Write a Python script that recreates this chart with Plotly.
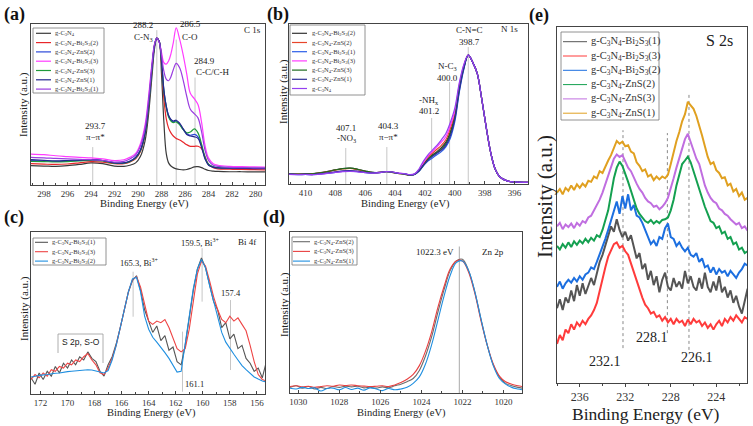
import plotly.graph_objects as go

FONT = "Liberation Serif"
W, H = 753, 426

# ---------------- (a) C 1s ----------------
a_energy = [299.1, 298, 297, 296, 295, 294, 293, 292, 291.2, 290.7, 290.2, 289.8, 289.4, 289.1, 288.8,
            288.6, 288.4, 288.2, 288.0, 287.8, 287.6, 287.4, 287.2, 287.0, 286.75, 286.45, 286.15, 285.85,
            285.55, 285.2, 284.9, 284.6, 284.3, 284.0, 283.6, 283.2, 282.2, 281.2, 280.2, 279.2]
a_gc3n4 = [12.2, 12.0, 11.8, 12.2, 13.0, 14.0, 13.5, 12.0, 11.8, 12.5, 14, 18, 28, 45, 70, 86, 93, 91, 70, 40,
           20, 14, 12, 11, 10.2, 9.8, 9.6, 9.8, 10.5, 11.5, 11.6, 11, 10, 9.2, 8.8, 8.6, 8.4, 8.4, 8.3, 8.3]
a_bi2 = [13.5, 13.2, 13, 13.3, 14, 14.8, 14.5, 13.5, 13.5, 14.5, 16.5, 21, 32, 50, 74, 88, 93, 91, 77, 55,
         42, 36, 33, 31, 29.5, 28.5, 27, 25.5, 24.5, 24.5, 24.5, 23, 18, 13, 11, 10.2, 10, 9.8, 9.7, 9.6]
a_zns2 = [15.5, 15.2, 15, 15.2, 15.5, 16, 15.5, 14, 14, 15, 17.5, 22, 33, 51, 75, 88, 93, 91, 79, 60,
          50, 44, 41, 40, 40.5, 38.5, 35, 32.5, 31.5, 32, 30.5, 25, 17, 13, 11.5, 11, 10.8, 10.7, 10.6, 10.6]
a_bi3 = [19.6, 19.2, 18.5, 18, 17.5, 17.2, 16.5, 15.5, 16, 17.5, 20, 26, 38, 56, 78, 89, 93, 90.5, 84, 77.5,
         76.5, 78.5, 83, 90, 99.5, 92, 82, 70, 58, 54.5, 51, 40, 25, 17, 13.5, 12.5, 11.8, 11.6, 11.5, 11.4]
a_zns3 = [15, 14.8, 14.6, 14.8, 15.2, 15.6, 15.2, 13.8, 13.8, 14.8, 17, 21.5, 32, 50, 74, 88, 93, 91, 78, 59,
          49, 43, 40.5, 39.5, 40, 38, 35, 33, 33.5, 35.5, 33, 26, 17.5, 13, 11.5, 11, 10.8, 10.7, 10.6, 10.6]
a_zns1 = [16, 15.6, 15.3, 15.5, 15.8, 16, 15.5, 14, 14, 15, 17.5, 22, 33, 51, 75, 88, 93, 91, 79, 60,
          50, 44, 41.5, 40.5, 41, 39, 35.5, 32, 31, 30.5, 29.5, 24, 16.5, 12.5, 11.2, 10.8, 10.6, 10.5, 10.4, 10.4]
a_bi1 = [17.5, 17.2, 16.8, 16.5, 16.3, 16, 15.5, 14.5, 15, 16.5, 19, 24.5, 36, 54, 77, 89, 93, 90.5, 82, 72,
         67, 66, 68.5, 73, 77, 74, 66, 56, 48, 45, 42.5, 34, 22, 15.5, 12.5, 11.8, 11.2, 11, 10.9, 10.8]
a_names = ["g-C<sub>3</sub>N<sub>4</sub>", "g-C<sub>3</sub>N<sub>4</sub>-Bi<sub>2</sub>S<sub>3</sub>(2)",
           "g-C<sub>3</sub>N<sub>4</sub>-ZnS(2)", "g-C<sub>3</sub>N<sub>4</sub>-Bi<sub>2</sub>S<sub>3</sub>(3)",
           "g-C<sub>3</sub>N<sub>4</sub>-ZnS(3)", "g-C<sub>3</sub>N<sub>4</sub>-ZnS(1)",
           "g-C<sub>3</sub>N<sub>4</sub>-Bi<sub>2</sub>S<sub>3</sub>(1)"]
a_series = [a_gc3n4, a_bi2, a_zns2, a_bi3, a_zns3, a_zns1, a_bi1]
a_colors = ["#3a3a3a", "#e8262a", "#2b48d8", "#ff3cff", "#1f9a3a", "#25258f", "#9a3de0"]
a_lines = [293.85, 288.4, 286.75, 285.15]
a_line_tops = [24, 98, 92, 68]

# ---------------- (b) N 1s ----------------
b_energy = [411.1, 410.5, 410, 409.5, 409, 408.5, 408, 407.5, 407, 406.5, 406, 405.5, 405, 404.6, 404.2,
            403.8, 403.4, 403.0, 402.7, 402.4, 402.1, 401.8, 401.5, 401.2, 400.9, 400.6, 400.3, 400.0, 399.7,
            399.4, 399.1, 398.8, 398.5, 398.2, 397.9, 397.6, 397.3, 397.0, 396.5, 396.0, 395.1]
b_bi2 = [6.5, 6.3, 6.5, 6.6, 7.2, 8.0, 9.0, 9.8, 10.0, 9.3, 8.2, 7.3, 7.4, 7.9, 7.5, 6.8, 6.4, 5.7, 6.2, 8.5,
         12.5, 16, 18.5, 20.5, 23, 26.5, 33, 43, 61, 74, 81.6, 77, 70, 54, 36, 20, 9.5, 4.6, 2.0, 1.3, 1.0]
b_zns2 = [6.4, 6.2, 6.4, 6.5, 7.0, 7.8, 8.8, 9.5, 9.8, 9.0, 8.0, 7.2, 7.3, 7.8, 7.4, 6.7, 6.3, 5.6, 6.2, 8.8,
          13, 17, 19.5, 22, 24.5, 28, 35, 44.5, 62, 74.5, 81.6, 77, 70, 54, 36, 20, 9.5, 4.6, 2.0, 1.3, 1.0]
b_bi1 = [6.2, 5.9, 6.0, 5.9, 6.3, 6.8, 7.4, 7.9, 8.1, 7.8, 7.2, 6.9, 7.2, 7.8, 7.5, 6.8, 6.5, 5.8, 6.1, 8.0,
         11.5, 14.5, 16.5, 18.5, 20.5, 23.5, 29, 39.5, 58, 72.5, 81.6, 77, 70, 54, 36, 20, 9.5, 4.6, 2.0, 1.3, 1.0]
b_bi3 = [6.2, 6.0, 6.1, 6.0, 6.4, 6.9, 7.5, 8.0, 8.2, 7.9, 7.3, 7.0, 7.3, 7.9, 7.6, 6.9, 6.5, 5.8, 6.3, 9.0,
         13.5, 17.5, 20.5, 23.5, 26.5, 30, 37, 46, 63, 75, 81.6, 77, 70, 54, 36, 20, 9.5, 4.6, 2.0, 1.3, 1.0]
b_zns3 = [6.5, 6.2, 6.4, 6.5, 7.1, 7.9, 8.9, 9.7, 10.0, 9.3, 8.2, 7.3, 7.3, 7.8, 7.4, 6.7, 6.3, 5.6, 6.1, 8.3,
          12.0, 15.5, 18, 20, 22, 25.5, 32, 42, 60.5, 73.5, 81.6, 77, 70, 54, 36, 20, 9.5, 4.6, 2.0, 1.3, 1.0]
b_zns1 = [6.3, 6.0, 6.2, 6.0, 6.5, 7.0, 7.7, 8.3, 8.5, 8.1, 7.4, 7.0, 7.3, 7.9, 7.6, 6.8, 6.5, 5.7, 6.1, 8.2,
          12.0, 15.0, 17.5, 19.5, 21.5, 24.5, 30.5, 41, 59, 73, 81.6, 77, 70, 54, 36, 20, 9.5, 4.6, 2.0, 1.3, 1.0]
b_gc3n4 = [6.1, 5.9, 6.0, 5.9, 6.3, 6.7, 7.3, 7.8, 8.0, 7.7, 7.2, 6.9, 7.2, 7.8, 7.6, 6.9, 6.6, 5.9, 6.4, 9.5,
           14.5, 18.5, 21.5, 24.5, 28, 32, 39, 48, 64, 75.5, 81.6, 77, 70, 54, 36, 20, 9.5, 4.6, 2.0, 1.3, 1.0]
b_names = ["g-C<sub>3</sub>N<sub>4</sub>-Bi<sub>2</sub>S<sub>3</sub>(2)", "g-C<sub>3</sub>N<sub>4</sub>-ZnS(2)",
           "g-C<sub>3</sub>N<sub>4</sub>-Bi<sub>2</sub>S<sub>3</sub>(1)",
           "g-C<sub>3</sub>N<sub>4</sub>-Bi<sub>2</sub>S<sub>3</sub>(3)", "g-C<sub>3</sub>N<sub>4</sub>-ZnS(3)",
           "g-C<sub>3</sub>N<sub>4</sub>-ZnS(1)", "g-C<sub>3</sub>N<sub>4</sub>"]
b_series = [b_bi2, b_zns2, b_bi1, b_bi3, b_zns3, b_zns1, b_gc3n4]
b_colors = ["#333333", "#e8452a", "#2b5ee8", "#ff3cff", "#1d6b1d", "#2e2e96", "#9440f0"]
b_lines = [407.3, 404.55, 401.55, 400.35, 399.1]
b_line_tops = [22.8, 23.4, 41.8, 64.6, 86.7]

# ---------------- (c) Bi 4f ----------------
c_energy = [172.7, 172.4, 172.1, 171.8, 171.5, 171.2, 170.9, 170.6, 170.3, 170.0, 169.7, 169.4, 169.1, 168.8,
            168.5, 168.2, 167.9, 167.6, 167.3, 167.0, 166.7, 166.4, 166.1, 165.8, 165.5, 165.2, 164.9, 164.6,
            164.3, 164.0, 163.7, 163.4, 163.1, 162.8, 162.5, 162.2, 161.9, 161.6, 161.3, 161.0, 160.7, 160.4,
            160.1, 159.8, 159.5, 159.2, 158.9, 158.6, 158.3, 158.0, 157.7, 157.4, 157.1, 156.8, 156.5, 156.2,
            155.9, 155.6, 155.3]
c_bi1 = [10, 6, 13, 9, 14, 11, 17, 13, 19, 16, 21, 18, 23, 21, 26, 22, 20, 14, 11, 18, 23, 31, 41, 53, 63, 70,
         73, 64, 52, 45, 38, 42, 33, 36, 27, 29, 20, 18, 30, 47, 64, 77, 84, 78, 68, 57, 52, 41, 44, 34, 37, 28,
         30, 22, 19, 14, 16, 10, 20]
c_bi3 = [9, 12, 10, 13, 11, 15, 14, 17, 16, 19, 18, 21, 20, 23, 25, 21, 18, 13, 12, 16, 22, 30, 41, 53, 63,
         70.5, 72.5, 66, 56, 45, 43, 45, 44, 46, 41, 34, 28, 26, 28, 40, 58, 74, 82, 79, 70, 60, 52, 46, 44, 48,
         45, 47, 43, 39, 30, 20, 12, 9, 8]
c_bi2 = [10.5, 11, 11.5, 11.8, 12, 12.5, 12.8, 13, 13.5, 13.8, 14, 14.2, 14.5, 15, 15, 14.8, 14.2, 13.5, 13,
         14.5, 21, 30, 41, 53, 63, 71, 72, 63, 48, 40, 35, 32, 29, 25.5, 22, 18, 13.5, 14, 30, 48, 65, 77, 83,
         78, 67, 57, 47, 38, 32, 28, 24.5, 21, 17.5, 15, 12.5, 10.5, 9.2, 8, 7.5]
c_names = ["g-C<sub>3</sub>N<sub>4</sub>-Bi<sub>2</sub>S<sub>3</sub>(1)",
           "g-C<sub>3</sub>N<sub>4</sub>-Bi<sub>2</sub>S<sub>3</sub>(3)",
           "g-C<sub>3</sub>N<sub>4</sub>-Bi<sub>2</sub>S<sub>3</sub>(2)"]
c_series = [c_bi1, c_bi3, c_bi2]
c_colors = ["#555555", "#ee4444", "#1f8fe0"]
c_lines = [165.15, 160.05, 157.95, 161.5]
c_line_ranges = [(47.7, 75.5), (57, 90), (14.8, 58), (1.4, 38.5)]

# ---------------- (d) Zn 2p ----------------
d_energy = [1030.4, 1030.1, 1029.8, 1029.5, 1029.2, 1028.9, 1028.6, 1028.3, 1028.0, 1027.7, 1027.4, 1027.1,
            1026.8, 1026.5, 1026.2, 1025.9, 1025.6, 1025.3, 1025.0, 1024.7, 1024.4, 1024.1, 1023.8, 1023.5,
            1023.2, 1022.9, 1022.6, 1022.3, 1022.0, 1021.7, 1021.4, 1021.1, 1020.8, 1020.5, 1020.2, 1019.9,
            1019.6, 1019.3, 1019.1]
d_zns2 = [3.5, 4.5, 3, 4.0, 2.5, 3.5, 2.8, 4.0, 3.5, 4.3, 3.8, 4.2, 3.2, 3.6, 3.0, 3.8, 3.2, 4.5, 5.5, 7, 9, 14,
          23, 35, 50, 64, 76, 82, 83, 76, 63, 46, 30, 17.5, 10, 6, 4.5, 3.5, 3.0]
d_zns3 = [4, 4.5, 3.8, 4.2, 3.5, 4.0, 4.5, 4.2, 5.0, 4.6, 5.0, 4.5, 4.3, 4.0, 4.2, 4.5, 4.0, 5.0, 6.5, 8.5, 11.5,
          17, 26, 38, 53, 66, 77, 82, 82, 75, 62, 45, 30, 18, 10.5, 7, 5.5, 4.5, 4.0]
d_zns1 = [3, 2.5, 3.5, 2.8, 3.2, 1.2, 2.8, 3.0, 2.0, 3.4, 2.2, 3.0, 1.8, 3.2, 2.5, 1.5, 2.8, 2.0, 2.5, 3.5, 6,
          10, 18, 30, 45, 60, 73, 81, 82, 76, 63, 46, 30, 17, 9, 5.5, 3.5, 2.5, 2.0]
d_names = ["g-C<sub>3</sub>N<sub>4</sub>-ZnS(2)", "g-C<sub>3</sub>N<sub>4</sub>-ZnS(3)",
           "g-C<sub>3</sub>N<sub>4</sub>-ZnS(1)"]
d_series = [d_zns2, d_zns3, d_zns1]
d_colors = ["#6b6b6b", "#e84040", "#1f8fe0"]
d_lines = [1022.15]
d_line_tops = [91]

# ---------------- (e) S 2s ----------------
e_energy = [238.00, 237.75, 237.50, 237.25, 237.00, 236.75, 236.50, 236.25, 236.00, 235.75, 235.50, 235.25,
            235.00, 234.75, 234.50, 234.25, 234.00, 233.75, 233.50, 233.25, 233.00, 232.75, 232.50, 232.25,
            232.00, 231.75, 231.50, 231.25, 231.00, 230.75, 230.50, 230.25, 230.00, 229.75, 229.50, 229.25,
            229.00, 228.75, 228.50, 228.25, 228.00, 227.75, 227.50, 227.25, 227.00, 226.75, 226.50, 226.25,
            226.00, 225.75, 225.50, 225.25, 225.00, 224.75, 224.50, 224.25, 224.00, 223.75, 223.50, 223.25,
            223.00, 222.75, 222.50, 222.25, 222.00, 221.75, 221.50, 221.25]
e_bi1 = [21.0, 23.5, 20.5, 24.0, 22.5, 26.0, 23.0, 27.5, 24.5, 28.0, 25.0, 27.0, 29.5, 27.5, 31.0, 34.0, 36.0,
         38.5, 41.5, 44.0, 42.5, 46.0, 43.0, 41.0, 42.5, 40.0, 41.5, 38.5, 35.0, 36.5, 32.0, 33.5, 29.0, 31.5,
         27.5, 30.0, 25.5, 29.0, 31.0, 27.0, 26.0, 29.5, 27.0, 28.5, 26.5, 31.5, 28.0, 30.0, 27.0, 26.0, 29.5,
         26.5, 31.0, 27.0, 25.5, 28.5, 26.0, 30.0, 25.5, 27.0, 24.0, 26.0, 22.5, 24.5, 21.5, 19.5, 23.0, 26.5]
e_bi3 = [11.0, 13.5, 12.0, 15.0, 14.0, 16.5, 15.0, 17.0, 16.0, 17.5, 16.5, 18.0, 19.0, 20.5, 22.5, 26.0, 29.0,
         32.5, 35.5, 37.5, 39.0, 39.5, 38.0, 38.5, 37.0, 36.0, 33.5, 31.0, 28.5, 26.5, 24.0, 22.0, 21.0, 19.5,
         20.0, 18.5, 19.0, 17.5, 18.5, 17.0, 18.0, 16.5, 18.0, 17.0, 17.5, 16.0, 17.8, 16.5, 18.0, 17.0, 17.5,
         16.0, 17.0, 15.5, 16.5, 15.0, 16.5, 17.5, 16.0, 18.0, 17.0, 18.5, 17.5, 19.0, 18.0, 17.0, 18.5, 18.0]
e_bi2 = [27.0, 28.5, 26.5, 28.0, 29.0, 28.2, 29.5, 28.5, 30.0, 29.0, 30.5, 31.0, 32.5, 32.0, 34.0, 36.0, 38.0,
         40.5, 43.0, 45.5, 48.0, 51.0, 47.5, 52.5, 49.0, 53.0, 48.5, 50.0, 47.0, 46.5, 45.0, 43.0, 41.5, 39.0,
         40.0, 38.5, 41.0, 40.5, 43.5, 44.8, 41.0, 40.5, 38.5, 39.5, 38.0, 37.0, 38.0, 36.0, 35.5, 36.5, 34.0,
         35.0, 32.5, 33.0, 31.0, 32.5, 30.5, 32.0, 31.0, 31.5, 30.0, 31.5, 30.5, 29.5, 31.0, 32.0, 33.5, 33.0]
e_zns2 = [38.5, 37.5, 39.0, 38.0, 39.5, 38.2, 39.8, 38.8, 40.0, 39.2, 40.5, 39.5, 40.8, 40.0, 41.5, 41.0, 43.0,
          45.5, 48.5, 53.0, 57.5, 60.5, 62.2, 61.0, 59.0, 56.5, 54.0, 51.5, 49.0, 47.5, 46.5, 45.5, 45.0, 45.8,
          44.8, 45.5, 44.9, 45.8, 46.0, 46.5, 48.5, 51.5, 55.5, 58.5, 61.5, 62.5, 63.6, 62.0, 59.5, 57.0, 54.0,
          51.5, 49.5, 47.5, 45.5, 45.0, 43.5, 44.0, 42.0, 42.5, 40.5, 41.0, 39.0, 39.5, 37.5, 38.0, 36.5, 37.0]
e_zns3 = [44.0, 45.0, 43.2, 44.5, 43.8, 44.8, 43.5, 45.0, 44.2, 45.5, 45.0, 46.5, 47.0, 48.5, 50.0, 51.5, 53.5,
          56.0, 58.0, 61.0, 63.0, 64.2, 63.5, 64.0, 62.0, 60.5, 59.5, 57.5, 56.0, 54.5, 53.5, 52.0, 51.0, 50.5,
          49.5, 49.8, 48.8, 49.5, 50.5, 52.0, 54.5, 57.5, 60.5, 63.0, 66.0, 68.5, 70.0, 67.5, 65.5, 63.0, 61.5,
          58.5, 55.5, 53.5, 52.0, 51.0, 50.5, 49.0, 48.5, 47.5, 47.0, 46.0, 45.2, 44.5, 45.0, 43.5, 44.0, 42.8]
e_zns1 = [53.5, 54.5, 53.0, 54.8, 54.0, 55.5, 54.2, 55.8, 54.8, 56.0, 55.2, 56.8, 56.5, 58.0, 57.5, 59.5, 59.0,
          61.0, 62.5, 64.0, 66.0, 68.0, 67.2, 67.8, 66.5, 66.8, 65.0, 64.5, 62.0, 61.0, 59.5, 60.0, 58.0, 58.5,
          57.0, 58.0, 57.2, 58.0, 57.5, 58.5, 61.5, 65.0, 68.0, 70.5, 73.5, 75.5, 79.0, 78.0, 77.0, 75.0, 72.5,
          69.5, 66.5, 63.5, 61.5, 62.0, 59.8, 59.0, 57.5, 57.8, 55.5, 56.0, 53.8, 54.5, 52.5, 53.5, 51.5, 52.0]
e_names = ["g-C<sub>3</sub>N<sub>4</sub>-Bi<sub>2</sub>S<sub>3</sub>(1)",
           "g-C<sub>3</sub>N<sub>4</sub>-Bi<sub>2</sub>S<sub>3</sub>(3)",
           "g-C<sub>3</sub>N<sub>4</sub>-Bi<sub>2</sub>S<sub>3</sub>(2)", "g-C<sub>3</sub>N<sub>4</sub>-ZnS(2)",
           "g-C<sub>3</sub>N<sub>4</sub>-ZnS(3)", "g-C<sub>3</sub>N<sub>4</sub>-ZnS(1)"]
e_series = [e_bi1, e_bi3, e_bi2, e_zns2, e_zns3, e_zns1]
e_colors = ["#555555", "#ff3b3b", "#1c6fe0", "#14a050", "#c06ee0", "#e0a020"]
e_lines = [232.2, 228.3, 226.4]
e_line_ranges = [(9.8, 71), (14, 70.2), (9.3, 81.5)]

# ---------------- layout helpers ----------------
def px(x):
    return x / W


def py(y):
    return 1 - y / H


fig = go.Figure()
annotations = []
shapes = []

panels = [
    # idx, frame (x0, x1, top, bottom), xrange, yrange, dtick, minor, tickfont, tick direction
    (1, (31, 265, 24, 185), [299.1, 279.2], [0, 101.9], 2, 1, 9, "inside"),
    (2, (289, 528, 24, 184), [411.1, 395.1], [0, 101.3], 2, 1, 9, "inside"),
    (3, (31, 265, 232, 394), [172.7, 155.4], [0, 100], 2, 1, 9, "inside"),
    (4, (290, 522, 232, 393), [1030.4, 1019.1], [0, 100], 2, 1, 9, "inside"),
    (5, (557, 747, 27, 383), [238.0, 221.3], [0, 100], 4, 2, 12, "outside"),
]
for idx, (x0, x1, t, b), xr, yr, dt, mn, tf, tdir in panels:
    sfx = "" if idx == 1 else str(idx)
    fig.layout["xaxis" + sfx] = dict(
        domain=[px(x0), px(x1)], range=xr, anchor="y" + sfx, showline=True, mirror=True,
        linecolor="#444", linewidth=1, ticks=tdir, ticklen=3, tickcolor="#444", dtick=dt,
        minor=dict(ticks=tdir, ticklen=2, dtick=mn, tickcolor="#444"),
        showgrid=False, zeroline=False, tickfont=dict(family=FONT, size=tf, color="#333"))
    fig.layout["yaxis" + sfx] = dict(
        domain=[py(b), py(t)], range=yr, anchor="x" + sfx, showline=True, mirror=True,
        linecolor="#444", linewidth=1, ticks="", showticklabels=False, showgrid=False, zeroline=False)


def add_series(idx, xs, ys_list, colors, width, shape):
    sfx = "" if idx == 1 else str(idx)
    for ys, col in zip(ys_list, colors):
        fig.add_trace(go.Scatter(x=xs, y=ys, mode="lines", xaxis="x" + sfx, yaxis="y" + sfx,
                                 line=dict(color=col, width=width, shape=shape), showlegend=False,
                                 hoverinfo="skip"))


add_series(1, a_energy, a_series, a_colors, 1.2, "spline")
add_series(2, b_energy, b_series, b_colors, 1.2, "spline")
add_series(3, c_energy, c_series, c_colors, 1.1, "linear")
add_series(4, d_energy, d_series, d_colors, 1.1, "spline")
add_series(5, e_energy, e_series, e_colors, 2.0, "linear")

# reference lines (data coordinates)
LC = "#b8b8b8"
for xv, top in zip(a_lines, a_line_tops):
    shapes.append(dict(type="line", xref="x", yref="y", x0=xv, x1=xv, y0=0, y1=top,
                       line=dict(color=LC, width=0.8), layer="below"))
for xv, top in zip(b_lines, b_line_tops):
    shapes.append(dict(type="line", xref="x2", yref="y2", x0=xv, x1=xv, y0=0, y1=top,
                       line=dict(color=LC, width=0.8), layer="below"))
for xv, (lo, hi) in zip(c_lines, c_line_ranges):
    shapes.append(dict(type="line", xref="x3", yref="y3", x0=xv, x1=xv, y0=lo, y1=hi,
                       line=dict(color=LC, width=0.8), layer="below"))
for xv, top in zip(d_lines, d_line_tops):
    shapes.append(dict(type="line", xref="x4", yref="y4", x0=xv, x1=xv, y0=0, y1=top,
                       line=dict(color=LC, width=1.2), layer="below"))
for xv, (lo, hi) in zip(e_lines, e_line_ranges):
    shapes.append(dict(type="line", xref="x5", yref="y5", x0=xv, x1=xv, y0=lo, y1=hi,
                       line=dict(color="#888", width=1, dash="dot"), layer="below"))


def text(x, y, s, size=9, angle=0, bold=False, color="#222", family=FONT, xanchor="center"):
    if bold:
        s = "<b>" + s + "</b>"
    annotations.append(dict(x=px(x), y=py(y), xref="paper", yref="paper", text=s, showarrow=False,
                            xanchor=xanchor, yanchor="middle", textangle=angle,
                            font=dict(family=family, size=size, color=color)))


def legend(box, x_line, x_text, y0, dy, names, colors, size, lw):
    bx0, by0, bx1, by1 = box
    shapes.append(dict(type="rect", xref="paper", yref="paper", x0=px(bx0), x1=px(bx1), y0=py(by1),
                       y1=py(by0), line=dict(color="#777", width=0.8), fillcolor="white"))
    for i, (nm, col) in enumerate(zip(names, colors)):
        yy = y0 + i * dy
        shapes.append(dict(type="line", xref="paper", yref="paper", x0=px(x_line[0]), x1=px(x_line[1]),
                           y0=py(yy), y1=py(yy), line=dict(color=col, width=lw)))
        text(x_text, yy, nm, size=size, xanchor="left", color="#333")


# panel labels
text(14, 15, "(a)", size=18, bold=True, color="#111")
text(278, 14, "(b)", size=18, bold=True, color="#111")
text(14, 218, "(c)", size=18, bold=True, color="#111")
text(274, 218, "(d)", size=18, bold=True, color="#111")
text(539, 16, "(e)", size=18, bold=True, color="#111")

# axis titles
for xc, yc in [(144, 204), (405, 204), (151, 413), (401, 413)]:
    text(xc, yc, "Binding Energy (eV)", size=10.5)
for xc, yc in [(23, 105), (283, 92), (24, 309), (284, 305)]:
    text(xc, yc, "Intensity (a.u.)", size=11, angle=-90)
text(646, 414, "Binding Energy (eV)", size=17.5)
text(545, 197, "Intensity (a.u.)", size=21, angle=-90)

# (a) annotations
text(143, 25, "288.2", size=9)
text(143, 37, "C-N<sub>3</sub>", size=9)
text(190, 24, "286.5", size=9)
text(190, 37, "C-O", size=9)
text(205, 61, "284.9", size=9)
text(213, 72, "C-C/C-H", size=9)
text(95, 126, "293.7", size=9)
text(95, 137, "π−π*", size=9)
text(253, 30, "C 1s", size=9)
# (b)
text(469, 30, "C-N=C", size=9)
text(469, 42, "398.7", size=9)
text(510, 29, "N 1s", size=9)
text(447, 67, "N-C<sub>3</sub>", size=9)
text(447, 78, "400.0", size=9)
text(429, 100, "-NH<sub>x</sub>", size=9)
text(429, 111, "401.2", size=9)
text(388, 126, "404.3", size=9)
text(388, 137, "π−π*", size=9)
text(346, 128, "407.1", size=9)
text(346, 139, "-NO<sub>3</sub>", size=9)
# (c)
text(139, 262, "165.3, Bi<sup>3+</sup>", size=8.5)
text(200, 242, "159.5, Bi<sup>3+</sup>", size=8.5)
text(247, 242, "Bi 4f", size=9)
text(231, 293, "157.4", size=8.5)
text(194, 384, "161.1", size=8.5)
text(81, 342, "S 2p, S-O", size=8.5, family="Liberation Sans")
for seg in [((58, 334), (103, 334)), ((58, 334), (58, 353)), ((103, 334), (103, 363))]:
    shapes.append(dict(type="line", xref="paper", yref="paper", x0=px(seg[0][0]), x1=px(seg[1][0]),
                       y0=py(seg[0][1]), y1=py(seg[1][1]), line=dict(color="#999", width=0.8)))
# (d)
text(435, 252, "1022.3 eV", size=9)
text(493, 252, "Zn 2p", size=9)
# (e)
text(719, 41, "S 2s", size=16)
text(605, 361, "232.1", size=14)
text(652, 337, "228.1", size=14)
text(697, 357, "226.1", size=14)

# legends
legend((33, 28, 104, 93), (36, 51), 53, 33.3, 9.3, a_names, a_colors, 6.5, 1.2)
legend((290, 25, 365, 95), (292, 307), 310, 33.3, 9.2, b_names, b_colors, 6.5, 1.2)
legend((33, 238, 106, 265), (35, 48), 49.5, 242.3, 9.4, c_names, c_colors, 6.5, 1.1)
legend((292, 237, 357, 265), (293, 310), 311.5, 241.7, 9.7, d_names, d_colors, 6.5, 1.1)
legend((561, 32, 659, 120), (563, 587), 589, 41.7, 14.3, e_names, e_colors, 10.5, 1.0)

fig.update_layout(width=W, height=H, margin=dict(l=0, r=0, t=0, b=0), paper_bgcolor="white",
                  plot_bgcolor="white", showlegend=False, annotations=annotations, shapes=shapes,
                  font=dict(family=FONT))
fig.write_html("out.html", config={"displayModeBar": False},
               post_script="document.body.style.margin='0';")
